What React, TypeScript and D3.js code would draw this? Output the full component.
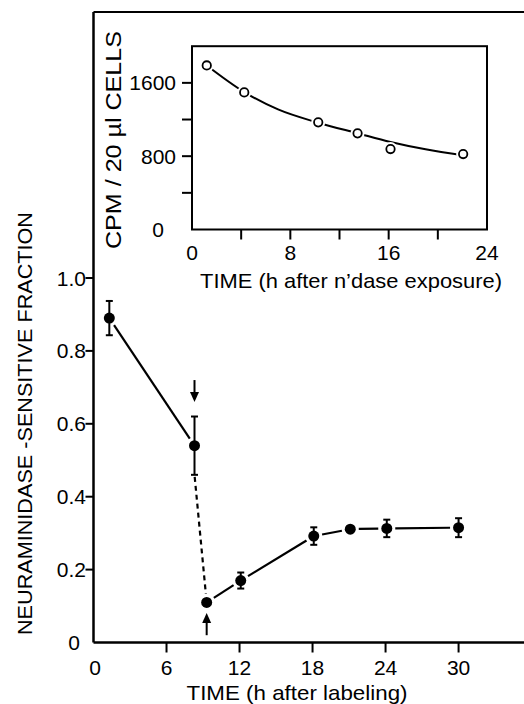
import React from "react";
import * as d3 from "d3";

// ---- Main panel data ----
const mainTime = [1.3, 8.3, 9.3, 12.1, 18.1, 21.1, 24.1, 30.0];
const mainFrac = [0.89, 0.54, 0.11, 0.17, 0.292, 0.311, 0.313, 0.315];
const mainErr = [0.047, 0.08, 0, 0.022, 0.024, 0, 0.024, 0.026];
const mainXTicks = [6, 12, 18, 24, 30];
const mainXLabels = ["0", "6", "12", "18", "24", "30"];
const mainYTicks = [0.2, 0.4, 0.6, 0.8, 1.0];
const mainYLabels = ["0", "0.2", "0.4", "0.6", "0.8", "1.0"];

// ---- Inset data ----
const insetTime = [1.2, 4.25, 10.27, 13.47, 16.15, 22.06];
const insetCPM = [1790, 1496, 1169, 1049, 878, 823];
const fitTime = [1.2, 4.25, 7, 10.27, 13.47, 16.15, 19, 22.06];
const fitCPM = [1790, 1500, 1310, 1165, 1050, 955, 875, 810];
const insetXTicks = [4, 8, 12, 16, 20];
const insetXLabels = ["0", "8", "16", "24"];
const insetYTicks = [400, 800, 1200, 1600];
const insetYLabels = ["0", "800", "1600"];

const FONT = "'Liberation Sans', Arial, sans-serif";

export default function App() {
  const W = 524, H = 704;
  const x = d3.scaleLinear().domain([0, 35.5]).range([93.5, 525.5]);
  const y = d3.scaleLinear().domain([0, 1]).range([642.5, 278]);
  const topY = 12;

  const ix = d3.scaleLinear().domain([0, 24]).range([192, 487]);
  const iy = d3.scaleLinear().domain([0, 2000]).range([229.5, 46.2]);

  const pts = mainTime.map((t, i) => ({ t, v: mainFrac[i], e: mainErr[i] }));
  const R = 5.5;

  const seg = (a: number, b: number, fromY?: number) => {
    const x1 = x(pts[a].t), y1 = fromY ?? y(pts[a].v);
    const x2 = x(pts[b].t), y2 = y(pts[b].v);
    const dx = x2 - x1, dy = y2 - y1;
    const L = Math.hypot(dx, dy);
    const g1 = fromY !== undefined ? 2 : R + 3, g2 = R + 3;
    return {
      x1: x1 + (dx / L) * g1, y1: y1 + (dy / L) * g1,
      x2: x2 - (dx / L) * g2, y2: y2 - (dy / L) * g2,
    };
  };
  const solidSegs = [[0, 1], [2, 3], [3, 4], [4, 5], [5, 6], [6, 7]].map(([a, b]) => seg(a, b));
  const dashSeg = seg(1, 2, y(pts[1].v - pts[1].e));

  const fitLine = d3
    .line<number>()
    .x((_, i) => ix(fitTime[i]))
    .y((d) => iy(d))
    .curve(d3.curveMonotoneX)(fitCPM) as string;

  const arrow = (cx: number, tipY: number, tailY: number) => {
    const dir = tailY > tipY ? 1 : -1;
    const hh = 10, hw = 4.5;
    return (
      <g>
        <line x1={cx} y1={tailY} x2={cx} y2={tipY + dir * (hh - 1)} stroke="#000" strokeWidth={2} />
        <path d={`M${cx},${tipY} L${cx - hw},${tipY + dir * hh} L${cx + hw},${tipY + dir * hh} Z`} fill="#000" />
      </g>
    );
  };

  return (
    <svg width={W} height={H} style={{ display: "block", position: "absolute", left: 0, top: 0, background: "#fff" }} fontFamily={FONT}>
      <rect x={0} y={0} width={W} height={H} fill="#fff" />
      <line x1={x(0)} y1={topY} x2={W} y2={topY} stroke="#000" strokeWidth={2} />
      <line x1={x(0)} y1={topY} x2={x(0)} y2={y(0)} stroke="#000" strokeWidth={2.5} />
      <line x1={x(0)} y1={y(0)} x2={W} y2={y(0)} stroke="#000" strokeWidth={2.5} />
      {mainYTicks.map((v) => (
        <line key={"yt" + v} x1={x(0) - 8} x2={x(0)} y1={y(v)} y2={y(v)} stroke="#000" strokeWidth={2} />
      ))}
      {mainYLabels.map((s, i) => (
        <text key={"yl" + s} x={i === 0 ? 80 : 86} y={y(i * 0.2)} dy="0.36em" textAnchor="end" fontSize={21}>
          {s}
        </text>
      ))}
      {mainXTicks.map((v) => (
        <line key={"xt" + v} x1={x(v)} x2={x(v)} y1={y(0)} y2={y(0) + 10} stroke="#000" strokeWidth={2} />
      ))}
      {mainXLabels.map((s, i) => (
        <text key={"xl" + s} x={x(i * 6) + (i === 0 ? 1.5 : 0)} y={675} textAnchor="middle" fontSize={21}>
          {s}
        </text>
      ))}
      <text x={297} y={700} textAnchor="middle" fontSize={21} textLength={221} lengthAdjust="spacingAndGlyphs">
        TIME (h after labeling)
      </text>
      <text
        transform={`translate(32,423.5) rotate(-90)`}
        textAnchor="middle"
        fontSize={21}
        textLength={423}
        lengthAdjust="spacingAndGlyphs"
      >
        NEURAMINIDASE -SENSITIVE FRACTION
      </text>

      {solidSegs.map((s, i) => (
        <line key={"s" + i} {...s} stroke="#000" strokeWidth={2.2} />
      ))}
      <line {...dashSeg} stroke="#000" strokeWidth={2.2} strokeDasharray="5,4" />

      {pts.filter((p) => p.e > 0).map((p, i) => (
        <g key={"e" + i} stroke="#000" strokeWidth={2}>
          <line x1={x(p.t)} x2={x(p.t)} y1={y(p.v - p.e)} y2={y(p.v + p.e)} />
          <line x1={x(p.t) - 3.5} x2={x(p.t) + 3.5} y1={y(p.v - p.e)} y2={y(p.v - p.e)} />
          <line x1={x(p.t) - 3.5} x2={x(p.t) + 3.5} y1={y(p.v + p.e)} y2={y(p.v + p.e)} />
        </g>
      ))}
      {pts.map((p, i) => (
        <circle key={"p" + i} cx={x(p.t)} cy={y(p.v)} r={R} fill="#000" />
      ))}
      {arrow(x(pts[1].t), y(0.66), y(0.72))}
      {arrow(x(pts[2].t), y(0.081), y(0.02))}

      <rect x={ix(0)} y={iy(2000)} width={ix(24) - ix(0)} height={iy(0) - iy(2000)} fill="none" stroke="#000" strokeWidth={2} />
      {insetYTicks.map((v) => (
        <line key={"iyt" + v} x1={ix(0) - 10} x2={ix(0)} y1={iy(v)} y2={iy(v)} stroke="#000" strokeWidth={2} />
      ))}
      {insetYLabels.map((s) => (
        <text key={"iyl" + s} x={s === "0" ? 164 : 176} y={iy(+s)} dy="0.36em" textAnchor="end" fontSize={21}>
          {s}
        </text>
      ))}
      {insetXTicks.map((v) => (
        <line key={"ixt" + v} x1={ix(v)} x2={ix(v)} y1={iy(0)} y2={iy(0) + 10} stroke="#000" strokeWidth={2} />
      ))}
      {insetXLabels.map((s) => (
        <text key={"ixl" + s} x={ix(+s)} y={260} textAnchor="middle" fontSize={21}>
          {s}
        </text>
      ))}
      <text x={351} y={288} textAnchor="middle" fontSize={21} textLength={302} lengthAdjust="spacingAndGlyphs">
        TIME (h after n’dase exposure)
      </text>
      <text
        transform={`translate(121,140) rotate(-90)`}
        textAnchor="middle"
        fontSize={22}
        textLength={218}
        lengthAdjust="spacingAndGlyphs"
      >
        CPM / 20 µl CELLS
      </text>
      <path d={fitLine} fill="none" stroke="#000" strokeWidth={2} />
      {insetTime.map((t, i) => (
        <g key={"ip" + i}>
          <circle cx={ix(t)} cy={iy(insetCPM[i])} r={7} fill="#fff" />
          <circle cx={ix(t)} cy={iy(insetCPM[i])} r={4.2} fill="#fff" stroke="#000" strokeWidth={1.8} />
        </g>
      ))}
    </svg>
  );
}
